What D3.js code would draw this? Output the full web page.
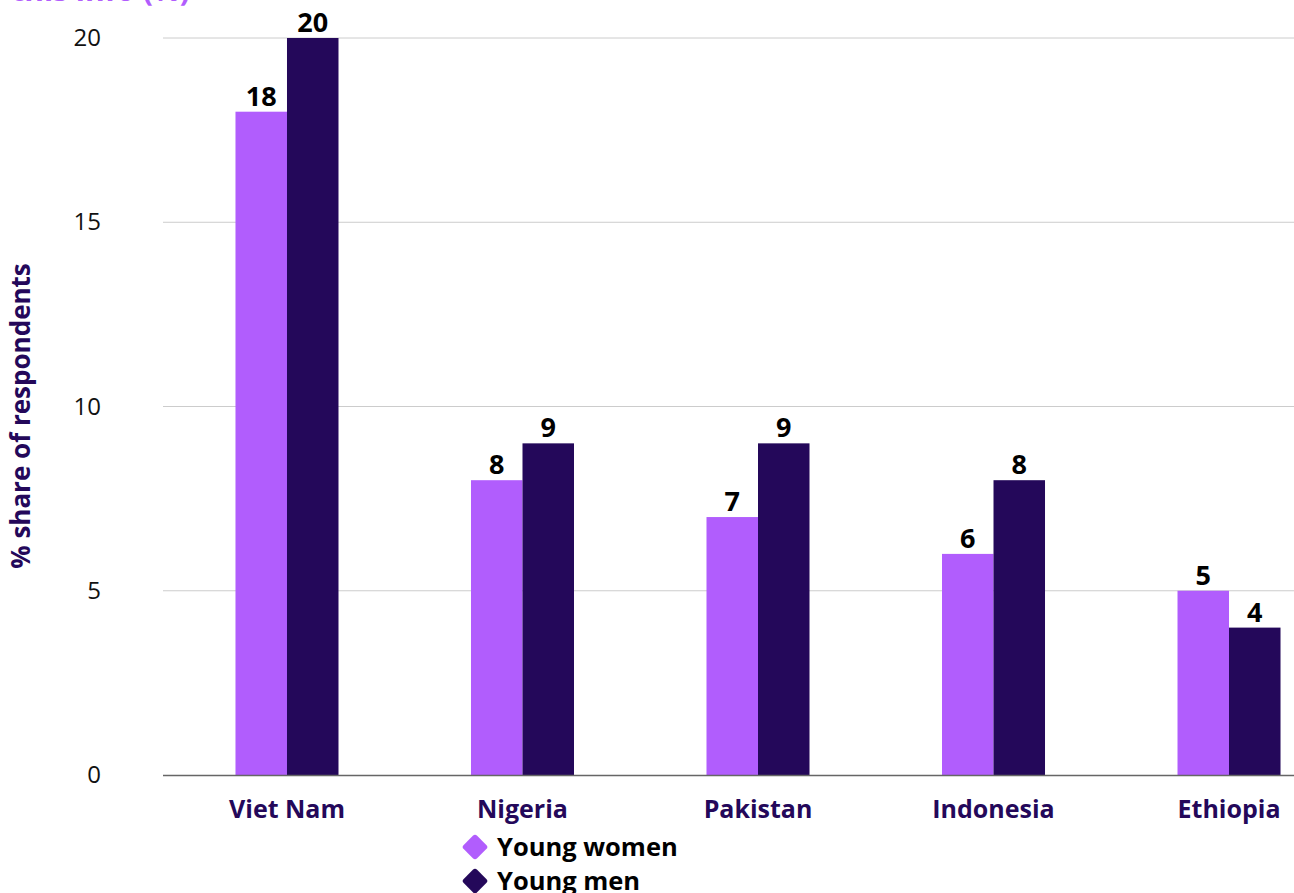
<!DOCTYPE html>
<html>
<head>
<meta charset="utf-8">
<script src="https://cdn.jsdelivr.net/npm/d3@7"></script>
<style>
body{margin:0;background:#fff;}
svg{display:block;font-family:"Open Sans","Noto Sans",sans-serif;}
</style>
</head>
<body>
<svg id="chart"></svg>
<script>
var countries = ["Viet Nam","Nigeria","Pakistan","Indonesia","Ethiopia"]
var youngWomen = [18,8,7,6,5]
var youngMen = [20,9,9,8,4]
var seriesNames = ["Young women","Young men"]
var yTicks = [0,5,10,15,20]

var colors = {"Young women":"#b15dfd","Young men":"#24085a"}

var screen = {width:1294,height:893}
var svg = d3.select("#chart")
    .attr("width",screen.width)
    .attr("height",screen.height)

var rows = countries.map(function(c,i){
    return {country:c,"Young women":youngWomen[i],"Young men":youngMen[i]}
})

var x0 = d3.scaleBand()
    .domain(countries)
    .range([169,1347])
    .paddingInner(0.5626)
    .paddingOuter(0.2823)

var x1 = d3.scaleBand()
    .domain(seriesNames)
    .range([0,x0.bandwidth()])

var yScale = d3.scaleLinear()
    .domain([0,20])
    .range([775,38])

// cut-off title at the very top
svg.append("text")
    .attr("x",190)
    .attr("y",1)
    .attr("text-anchor","end")
    .attr("font-size",30)
    .attr("font-weight",700)
    .attr("fill","#b15dfd")
    .text("this info (%)")

// grid
svg.append("g")
    .selectAll("line")
    .data(yTicks.slice(1))
    .enter()
    .append("line")
    .attr("x1",163)
    .attr("x2",1294)
    .attr("y1",function(d){return yScale(d)})
    .attr("y2",function(d){return yScale(d)})
    .attr("stroke","#cccccc")
    .attr("stroke-width",1)

var yAxis = d3.axisLeft(yScale).tickValues(yTicks).tickSize(0).tickPadding(0)
var yg = svg.append("g")
    .attr("transform","translate(101,0)")
    .call(yAxis)
yg.select(".domain").remove()
yg.selectAll("text")
    .attr("font-size",24)
    .attr("fill","#111")
    .attr("font-family","'Open Sans','Noto Sans',sans-serif")

svg.append("text")
    .attr("transform","translate(30,416) rotate(-90)")
    .attr("text-anchor","middle")
    .attr("font-size",26)
    .attr("font-weight",700)
    .attr("fill","#24085a")
    .text("% share of respondents")

// bars
var groups = svg.append("g")
    .selectAll("g")
    .data(rows)
    .enter()
    .append("g")
    .attr("transform",function(d){return "translate("+x0(d.country)+",0)"})

groups.selectAll("rect")
    .data(function(d){return seriesNames.map(function(s){return {key:s,value:d[s]}})})
    .enter()
    .append("rect")
    .attr("x",function(d){return x1(d.key)})
    .attr("width",x1.bandwidth())
    .attr("y",function(d){return yScale(d.value)})
    .attr("height",function(d){return yScale(0)-yScale(d.value)})
    .attr("fill",function(d){return colors[d.key]})

groups.selectAll("text")
    .data(function(d){return seriesNames.map(function(s){return {key:s,value:d[s]}})})
    .enter()
    .append("text")
    .attr("x",function(d){return x1(d.key)+x1.bandwidth()/2})
    .attr("y",function(d){return yScale(d.value)-6})
    .attr("text-anchor","middle")
    .attr("font-size",27)
    .attr("font-weight",700)
    .attr("fill","#000")
    .text(function(d){return d.value})

// baseline
svg.append("line")
    .attr("x1",163)
    .attr("x2",1294)
    .attr("y1",yScale(0)+0.5)
    .attr("y2",yScale(0)+0.5)
    .attr("stroke","#666")
    .attr("stroke-width",1.5)

var xAxis = d3.axisBottom(x0).tickSize(0).tickPadding(0)
var xg = svg.append("g")
    .call(xAxis)
xg.select(".domain").remove()
xg.selectAll("text")
    .attr("y",818)
    .attr("dy",null)
    .attr("font-size",25)
    .attr("font-weight",700)
    .attr("fill","#24085a")
    .attr("font-family","'Open Sans','Noto Sans',sans-serif")

// legend
var legend = svg.append("g")
    .selectAll("g")
    .data(seriesNames)
    .enter()
    .append("g")
    .attr("transform",function(d,i){return "translate(475,"+(847+i*34)+")"})

legend.append("rect")
    .attr("x",-9.5)
    .attr("y",-9.5)
    .attr("width",19)
    .attr("height",19)
    .attr("rx",3)
    .attr("transform","rotate(45)")
    .attr("fill",function(d){return colors[d]})

legend.append("text")
    .attr("x",22)
    .attr("y",9)
    .attr("font-size",25.5)
    .attr("font-weight",700)
    .attr("fill","#000")
    .text(function(d){return d})
</script>
</body>
</html>
